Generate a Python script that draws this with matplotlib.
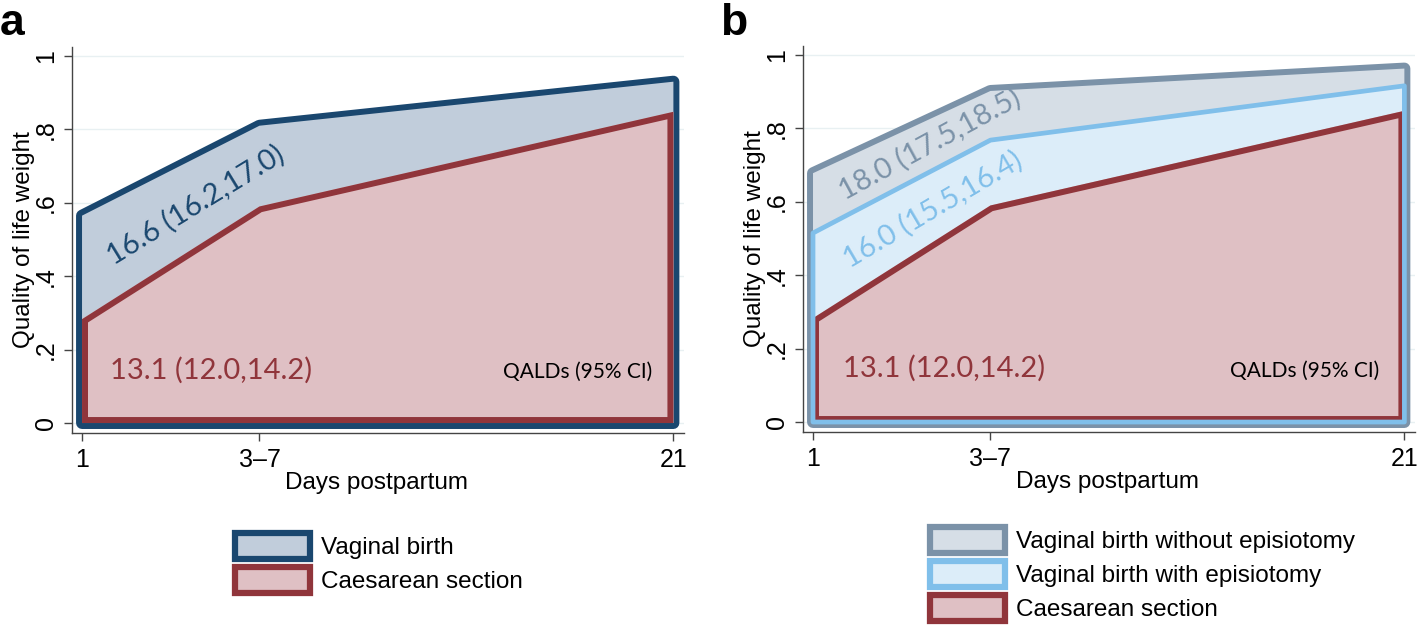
import matplotlib
matplotlib.use("Agg")
import matplotlib.pyplot as plt
from matplotlib.patches import Polygon, Patch

# data
days = [1, 7, 21]
day_labels = ["1", "3\u20137", "21"]
y_ticks = [0, 0.2, 0.4, 0.6, 0.8, 1.0]
y_tick_labels = ["0", ".2", ".4", ".6", ".8", "1"]

vaginal = [0.565, 0.81, 0.93]
caesarean = [0.283, 0.59, 0.848]
vag_no_epi = [0.678, 0.902, 0.963]
vag_epi = [0.515, 0.768, 0.916]

qald_vaginal = "16.6 (16.2,17.0)"
qald_caesarean = "13.1 (12.0,14.2)"
qald_no_epi = "18.0 (17.5,18.5)"
qald_epi = "16.0 (15.5,16.4)"

navy, navy_fill = "#1a476f", "#c1cddb"
maroon, maroon_fill = "#90353b", "#dfc0c4"
slate, slate_fill = "#7b92a8", "#d6dee6"
ltblue, ltblue_fill = "#80bfea", "#dcedf9"

ANNOT = ["Lato", "DejaVu Sans"]
plt.rcParams["font.family"] = ["Liberation Sans", "DejaVu Sans"]


def draw_area(ax, y, edge, fill, align, width=4.3):
    verts = [(days[0], 0)] + list(zip(days, y)) + [(days[-1], 0)]
    if align == "outside":
        # outline shown only outside the area
        ax.add_patch(Polygon(verts, closed=True, facecolor="none", edgecolor=edge,
                             lw=2 * width, joinstyle="round"))
        ax.add_patch(Polygon(verts, closed=True, facecolor=fill, edgecolor="none"))
    elif align == "inside":
        body = Polygon(verts, closed=True, facecolor=fill, edgecolor="none")
        ax.add_patch(body)
        line = Polygon(verts, closed=True, facecolor="none", edgecolor=edge,
                       lw=2 * width, joinstyle="round")
        ax.add_patch(line)
        line.set_clip_path(body)
    elif align == "fill":
        ax.add_patch(Polygon(verts, closed=True, facecolor=fill, edgecolor="none"))
    else:
        ax.add_patch(Polygon(verts, closed=True, facecolor="none", edgecolor=edge,
                             lw=width, joinstyle="round"))


def style_axes(ax):
    ax.set_xlim(0.662, 21.36)
    ax.set_ylim(-0.0272, 1.0245)
    ax.set_xticks(days)
    ax.set_xticklabels(day_labels)
    ax.set_yticks(y_ticks)
    ax.set_yticklabels(y_tick_labels, rotation=90, va="center")
    ax.tick_params(axis="both", length=6, width=1, color="#444444",
                   labelsize=18, pad=5)
    ax.tick_params(axis="y", pad=4)
    for s in ["top", "right"]:
        ax.spines[s].set_visible(False)
    for s in ["left", "bottom"]:
        ax.spines[s].set_color("#444444")
        ax.spines[s].set_linewidth(1)
    ax.set_axisbelow(True)
    ax.yaxis.grid(True, color="#e8f0f2", lw=1)
    ax.set_ylabel("Quality of life weight", fontsize=17.5)
    ax.yaxis.set_label_coords(-0.061, 0.5)
    ax.set_xlabel("Days postpartum", fontsize=17.5)
    ax.xaxis.set_label_coords(0.498, -0.1)


fig = plt.figure(figsize=(14.18, 6.25), dpi=100)
ax1 = fig.add_axes([0.0508, 0.3072, 0.4316, 0.6176])
ax2 = fig.add_axes([0.5663, 0.3088, 0.4316, 0.6176])

# panel a
draw_area(ax1, vaginal, navy, navy_fill, "outside")
draw_area(ax1, caesarean, maroon, maroon_fill, "inside")
style_axes(ax1)
ax1.text(4.86, 0.594, qald_vaginal, color=navy, fontsize=21, family=ANNOT,
         rotation=31.5, rotation_mode="anchor", ha="center", va="center")
ax1.text(1.95, 0.144, qald_caesarean, color=maroon, fontsize=21, family=ANNOT,
         ha="left", va="center")
ax1.text(20.3, 0.14, "QALDs (95% CI)", color="black", fontsize=15, family=ANNOT,
         ha="right", va="center")
fig.text(0.0, 0.995, "a", fontsize=32, fontweight="bold", va="top", ha="left")

leg_kw = dict(loc="upper left", frameon=False, fontsize=17.5, handlelength=3.1,
              handleheight=1.3, borderpad=0, borderaxespad=0,
              handletextpad=0.45, labelspacing=0.3)

h1 = [Patch(facecolor=navy_fill, edgecolor=navy, lw=4.5),
      Patch(facecolor=maroon_fill, edgecolor=maroon, lw=4.5)]
fig.legend(h1, ["Vaginal birth", "Caesarean section"],
           bbox_to_anchor=(235 / 1418, 1 - 533 / 625), **leg_kw)

# panel b
draw_area(ax2, vag_no_epi, slate, slate_fill, "outside")
draw_area(ax2, vag_epi, ltblue, ltblue_fill, "fill")
draw_area(ax2, caesarean, maroon, maroon_fill, "inside")
draw_area(ax2, vag_epi, ltblue, ltblue_fill, "center", width=3.4)
style_axes(ax2)
ax2.text(4.95, 0.755, qald_no_epi, color=slate, fontsize=21, family=ANNOT,
         rotation=28.5, rotation_mode="anchor", ha="center", va="center")
ax2.text(5.05, 0.578, qald_epi, color=ltblue, fontsize=21, family=ANNOT,
         rotation=30.5, rotation_mode="anchor", ha="center", va="center")
ax2.text(2.01, 0.147, qald_caesarean, color=maroon, fontsize=21, family=ANNOT,
         ha="left", va="center")
ax2.text(20.15, 0.14, "QALDs (95% CI)", color="black", fontsize=15, family=ANNOT,
         ha="right", va="center")
fig.text(0.508, 0.995, "b", fontsize=32, fontweight="bold", va="top", ha="left")

h2 = [Patch(facecolor=slate_fill, edgecolor=slate, lw=4.5),
      Patch(facecolor=ltblue_fill, edgecolor=ltblue, lw=4.5),
      Patch(facecolor=maroon_fill, edgecolor=maroon, lw=4.5)]
fig.legend(h2, ["Vaginal birth without episiotomy", "Vaginal birth with episiotomy",
                "Caesarean section"],
           bbox_to_anchor=(930 / 1418, 1 - 527 / 625), **leg_kw)

fig.savefig("out.png", dpi=100)
